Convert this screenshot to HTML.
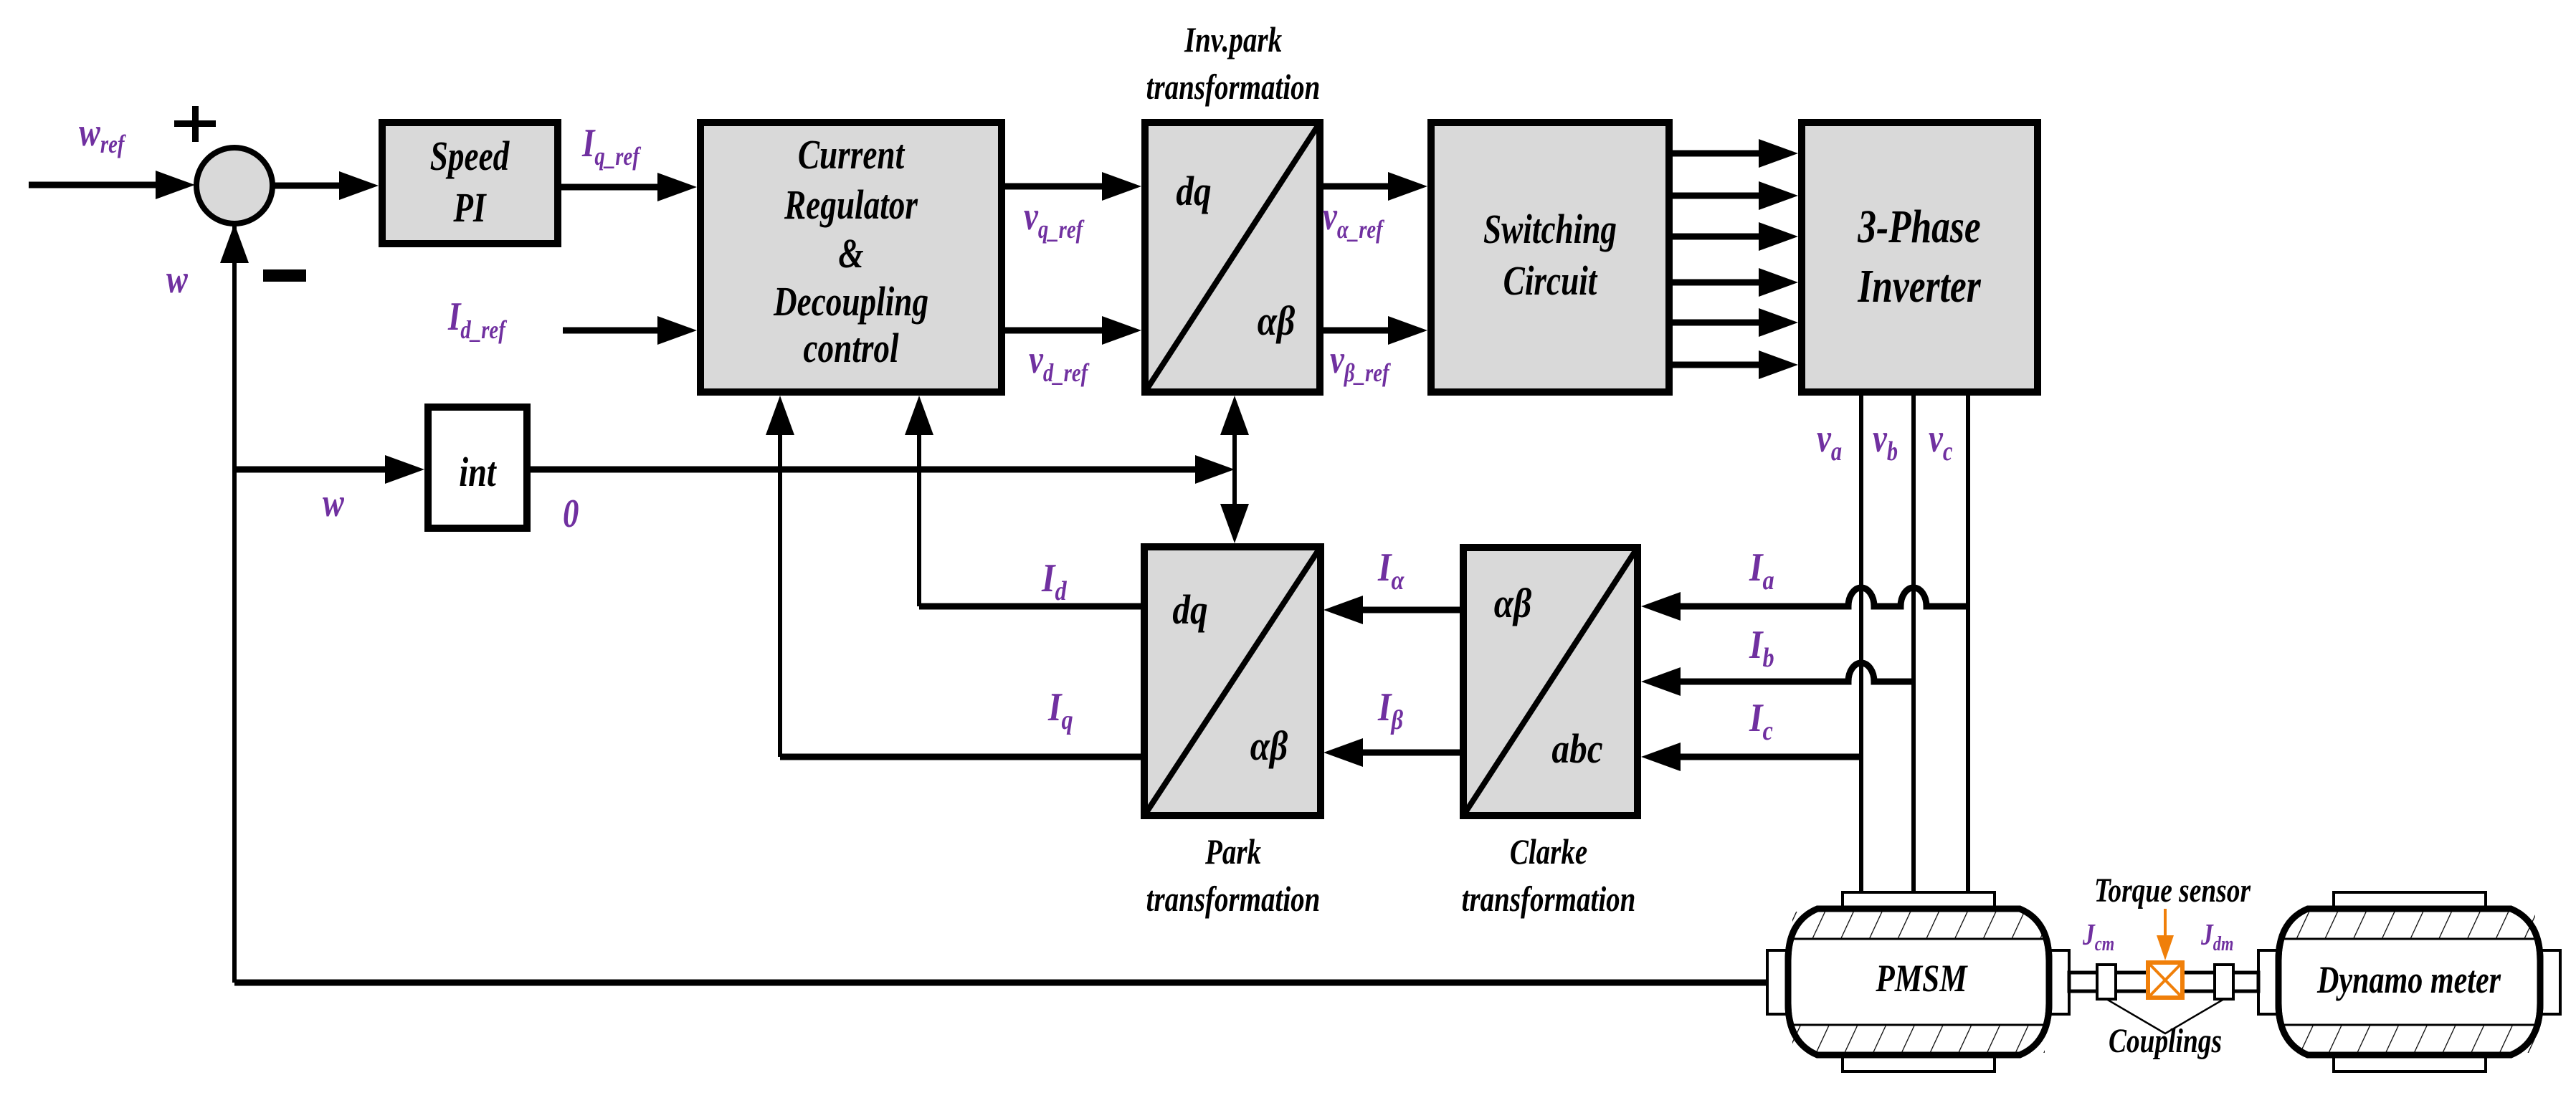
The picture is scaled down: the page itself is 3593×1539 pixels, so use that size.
<!DOCTYPE html>
<html><head><meta charset="utf-8"><style>
html,body{margin:0;padding:0;background:#fff;}
svg{display:block;}
text{font-family:"Liberation Serif",serif;font-weight:bold;font-style:italic;}
.k{fill:#000;}
.p{fill:#7030a0;}
</style></head><body>
<svg width="3593" height="1539" viewBox="0 0 3593 1539" xmlns="http://www.w3.org/2000/svg">
<defs>
<path id="ah" d="M0,0 L-55,-20 L-55,20 z"/>
<pattern id="hatch" patternUnits="userSpaceOnUse" width="36" height="36" patternTransform="rotate(25)"><rect width="36" height="36" fill="#fff"/><line x1="0" y1="0" x2="0" y2="36" stroke="#000" stroke-width="2.5"/></pattern>
</defs>

<g stroke="#000" fill="none">
<g stroke-width="9">
<line x1="40" y1="258" x2="260" y2="258"/>
<line x1="382" y1="259" x2="478" y2="259"/>
<line x1="783" y1="261" x2="922" y2="261"/>
<line x1="785" y1="461" x2="922" y2="461"/>
<line x1="1402" y1="260" x2="1542" y2="260"/>
<line x1="1402" y1="461" x2="1542" y2="461"/>
<line x1="1846" y1="260" x2="1941" y2="260"/>
<line x1="1846" y1="461" x2="1941" y2="461"/>
<line x1="2333" y1="214" x2="2458" y2="214"/>
<line x1="2333" y1="273" x2="2458" y2="273"/>
<line x1="2333" y1="330" x2="2458" y2="330"/>
<line x1="2333" y1="394" x2="2458" y2="394"/>
<line x1="2333" y1="450" x2="2458" y2="450"/>
<line x1="2333" y1="509" x2="2458" y2="509"/>
<line x1="327" y1="655" x2="542" y2="655"/>
<line x1="740" y1="655" x2="1672" y2="655"/>
<line x1="327" y1="1371" x2="2467" y2="1371"/>
<line x1="1592" y1="846" x2="1282" y2="846"/>
<line x1="1592" y1="1056" x2="1088" y2="1056"/>
<line x1="2036" y1="851" x2="1896" y2="851"/>
<line x1="2036" y1="1050" x2="1896" y2="1050"/>
<path d="M2339,846 H2578 A18,26 0 0 1 2614,846 H2651 A18,26 0 0 1 2687,846 H2745"/>
<path d="M2339,951 H2578 A18,26 0 0 1 2614,951 H2669"/>
<line x1="2339" y1="1056" x2="2596" y2="1056"/>
</g>
<g stroke-width="6">
<line x1="327" y1="312" x2="327" y2="1371"/>
<line x1="1088" y1="600" x2="1088" y2="1056"/>
<line x1="1282" y1="600" x2="1282" y2="846"/>
<line x1="1722" y1="600" x2="1722" y2="710"/>
<line x1="2596" y1="552" x2="2596" y2="1245"/>
<line x1="2669" y1="552" x2="2669" y2="1245"/>
<line x1="2745" y1="552" x2="2745" y2="1245"/>
</g>
</g>
<g fill="#000">
<use href="#ah" transform="translate(272,258)"/>
<use href="#ah" transform="translate(528,259)"/>
<use href="#ah" transform="translate(972,261)"/>
<use href="#ah" transform="translate(972,461)"/>
<use href="#ah" transform="translate(1592,260)"/>
<use href="#ah" transform="translate(1592,461)"/>
<use href="#ah" transform="translate(1991,260)"/>
<use href="#ah" transform="translate(1991,461)"/>
<use href="#ah" transform="translate(2508,214)"/>
<use href="#ah" transform="translate(2508,273)"/>
<use href="#ah" transform="translate(2508,330)"/>
<use href="#ah" transform="translate(2508,394)"/>
<use href="#ah" transform="translate(2508,450)"/>
<use href="#ah" transform="translate(2508,509)"/>
<use href="#ah" transform="translate(592,655)"/>
<use href="#ah" transform="translate(1722,655)"/>
<use href="#ah" transform="translate(327,312) rotate(-90)"/>
<use href="#ah" transform="translate(1088,552) rotate(-90)"/>
<use href="#ah" transform="translate(1282,552) rotate(-90)"/>
<use href="#ah" transform="translate(1722,552) rotate(-90)"/>
<use href="#ah" transform="translate(1722,758) rotate(90)"/>
<use href="#ah" transform="translate(1846,851) rotate(180)"/>
<use href="#ah" transform="translate(1846,1050) rotate(180)"/>
<use href="#ah" transform="translate(2289,846) rotate(180)"/>
<use href="#ah" transform="translate(2289,951) rotate(180)"/>
<use href="#ah" transform="translate(2289,1056) rotate(180)"/>
<rect x="367" y="376" width="60" height="17"/>
<rect x="243" y="168" width="58" height="9"/>
<rect x="268" y="148" width="9" height="50"/>
</g>

<g stroke="#000" stroke-width="10" fill="#d9d9d9">
<ellipse cx="327" cy="259" rx="53" ry="53" stroke-width="8"/>
<rect x="533" y="171" width="245" height="169"/>
<rect x="977" y="171" width="420" height="376"/>
<rect x="1597" y="171" width="244" height="376"/>
<rect x="1996" y="171" width="332" height="376"/>
<rect x="2513" y="171" width="329" height="376"/>
<rect x="1596" y="763" width="246" height="375"/>
<rect x="2041" y="764" width="243" height="374"/>
<rect x="597" y="568" width="138" height="169" fill="#fff"/>
</g>
<g stroke="#000" stroke-width="8">
<line x1="1597" y1="547" x2="1841" y2="171"/>
<line x1="1596" y1="1138" x2="1842" y2="763"/>
<line x1="2041" y1="1138" x2="2284" y2="764"/>
</g>

<g stroke="#000" fill="#fff">
<rect x="2570" y="1245" width="212" height="23" stroke-width="4"/>
<rect x="2570" y="1472" width="212" height="23" stroke-width="4"/>
<rect x="2465" y="1326" width="29" height="89" stroke-width="4"/>
<rect x="2858" y="1326" width="28" height="89" stroke-width="4"/>
<rect x="3255" y="1245" width="212" height="23" stroke-width="4"/>
<rect x="3255" y="1472" width="212" height="23" stroke-width="4"/>
<rect x="3150" y="1326" width="28" height="89" stroke-width="4"/>
<rect x="3543" y="1326" width="28" height="89" stroke-width="4"/>
<rect x="2886" y="1357" width="264" height="26" stroke-width="5"/>
</g>
<g stroke="#000">
<path d="M2535,1268 H2817 Q2858,1285 2858,1340 V1400 Q2858,1455 2817,1472 H2535 Q2494,1455 2494,1400 V1340 Q2494,1285 2535,1268 z" fill="#fff" stroke-width="9"/>
<rect x="2500" y="1272" width="352" height="38" fill="url(#hatch)" stroke="none"/>
<rect x="2500" y="1431" width="352" height="38" fill="url(#hatch)" stroke="none"/>
<path d="M2535,1268 H2817 Q2858,1285 2858,1340 V1400 Q2858,1455 2817,1472 H2535 Q2494,1455 2494,1400 V1340 Q2494,1285 2535,1268 z" fill="none" stroke-width="9"/>
<line x1="2498" y1="1310" x2="2855" y2="1310" stroke-width="3"/>
<line x1="2498" y1="1430" x2="2855" y2="1430" stroke-width="3"/>
<path d="M3219,1268 H3502 Q3543,1285 3543,1340 V1400 Q3543,1455 3502,1472 H3219 Q3178,1455 3178,1400 V1340 Q3178,1285 3219,1268 z" fill="#fff" stroke-width="9"/>
<rect x="3184" y="1272" width="352" height="38" fill="url(#hatch)" stroke="none"/>
<rect x="3184" y="1431" width="352" height="38" fill="url(#hatch)" stroke="none"/>
<path d="M3219,1268 H3502 Q3543,1285 3543,1340 V1400 Q3543,1455 3502,1472 H3219 Q3178,1455 3178,1400 V1340 Q3178,1285 3219,1268 z" fill="none" stroke-width="9"/>
<line x1="3182" y1="1310" x2="3540" y2="1310" stroke-width="3"/>
<line x1="3182" y1="1430" x2="3540" y2="1430" stroke-width="3"/>
<rect x="2925" y="1346" width="26" height="48" fill="#fff" stroke-width="4"/>
<rect x="3089" y="1346" width="26" height="48" fill="#fff" stroke-width="4"/>
<polyline points="2938,1394 3020,1442 3102,1394" fill="none" stroke-width="2.5"/>
</g>
<g stroke="#f07f09" fill="#fff" stroke-width="6">
<rect x="2996" y="1343" width="48" height="49"/>
<path d="M2996,1343 L3044,1392 M3044,1343 L2996,1392" fill="none" stroke-width="4"/>
<line x1="3020" y1="1268" x2="3020" y2="1310" stroke-width="4"/>
<path d="M3008,1305 L3032,1305 L3020,1340 z" fill="#f07f09" stroke="none"/>
</g>

<g class="k" text-anchor="middle" font-size="58">
<text transform="translate(655,237) scale(0.78,1)">Speed</text>
<text transform="translate(655,309) scale(0.78,1)">PI</text>
<text transform="translate(1187,235) scale(0.78,1)">Current</text>
<text transform="translate(1187,305) scale(0.78,1)">Regulator</text>
<text transform="translate(1187,373) scale(0.78,1)">&amp;</text>
<text transform="translate(1187,440) scale(0.78,1)">Decoupling</text>
<text transform="translate(1187,505) scale(0.78,1)">control</text>
<text transform="translate(2162,339) scale(0.78,1)">Switching</text>
<text transform="translate(2162,411) scale(0.78,1)">Circuit</text>
<text transform="translate(2677,338) scale(0.78,1)" font-size="66">3-Phase</text>
<text transform="translate(2677,421) scale(0.78,1)" font-size="66">Inverter</text>
<text transform="translate(1665,286) scale(0.85,1)">dq</text>
<text transform="translate(1780,467) scale(0.85,1)">αβ</text>
<text transform="translate(1660,870) scale(0.85,1)">dq</text>
<text transform="translate(1770,1060) scale(0.85,1)">αβ</text>
<text transform="translate(2110,861) scale(0.85,1)">αβ</text>
<text transform="translate(2200,1064) scale(0.85,1)">abc</text>
<text transform="translate(666,678) scale(0.8,1)">int</text>
<text transform="translate(2680,1383) scale(0.8,1)" font-size="54">PMSM</text>
<text transform="translate(3360,1385) scale(0.78,1)" font-size="54">Dynamo meter</text>
<text transform="translate(1720,72) scale(0.78,1)" font-size="50">Inv.park</text>
<text transform="translate(1720,138) scale(0.78,1)" font-size="50">transformation</text>
<text transform="translate(1720,1205) scale(0.78,1)" font-size="50">Park</text>
<text transform="translate(1720,1271) scale(0.78,1)" font-size="50">transformation</text>
<text transform="translate(2160,1205) scale(0.78,1)" font-size="50">Clarke</text>
<text transform="translate(2160,1271) scale(0.78,1)" font-size="50">transformation</text>
<text transform="translate(3030,1258) scale(0.78,1)" font-size="48">Torque sensor</text>
<text transform="translate(3020,1468) scale(0.78,1)" font-size="48">Couplings</text>
</g>

<g class="p" font-size="56">
<text transform="translate(110,203) scale(0.8,1)">w<tspan font-size="36" dy="10">ref</tspan></text>
<text transform="translate(232,408) scale(0.8,1)">w</text>
<text transform="translate(450,720) scale(0.8,1)">w</text>
<text transform="translate(785,735) scale(0.8,1)">0</text>
<text transform="translate(812,218) scale(0.8,1)">I<tspan font-size="36" dy="12">q_ref</tspan></text>
<text transform="translate(625,460) scale(0.8,1)">I<tspan font-size="36" dy="12">d_ref</tspan></text>
<text transform="translate(1428,320) scale(0.8,1)">v<tspan font-size="36" dy="12">q_ref</tspan></text>
<text transform="translate(1435,520) scale(0.8,1)">v<tspan font-size="36" dy="12">d_ref</tspan></text>
<text transform="translate(1845,320) scale(0.8,1)">v<tspan font-size="36" dy="12">α_ref</tspan></text>
<text transform="translate(1855,520) scale(0.8,1)">v<tspan font-size="36" dy="12">β_ref</tspan></text>
<text transform="translate(2534,630) scale(0.8,1)">v<tspan font-size="38" dy="12">a</tspan></text>
<text transform="translate(2612,630) scale(0.8,1)">v<tspan font-size="38" dy="12">b</tspan></text>
<text transform="translate(2690,630) scale(0.8,1)">v<tspan font-size="38" dy="12">c</tspan></text>
<text transform="translate(1453,825) scale(0.85,1)">I<tspan font-size="38" dy="12">d</tspan></text>
<text transform="translate(1462,1005) scale(0.85,1)">I<tspan font-size="38" dy="12">q</tspan></text>
<text transform="translate(1922,810) scale(0.85,1)">I<tspan font-size="38" dy="12">α</tspan></text>
<text transform="translate(1922,1005) scale(0.85,1)">I<tspan font-size="38" dy="12">β</tspan></text>
<text transform="translate(2440,810) scale(0.85,1)">I<tspan font-size="38" dy="12">a</tspan></text>
<text transform="translate(2440,918) scale(0.85,1)">I<tspan font-size="38" dy="12">b</tspan></text>
<text transform="translate(2440,1020) scale(0.85,1)">I<tspan font-size="38" dy="12">c</tspan></text>
<text transform="translate(2905,1318) scale(0.8,1)" font-size="42">J<tspan font-size="28" dy="8">cm</tspan></text>
<text transform="translate(3070,1318) scale(0.8,1)" font-size="42">J<tspan font-size="28" dy="8">dm</tspan></text>
</g>
</svg>
</body></html>
